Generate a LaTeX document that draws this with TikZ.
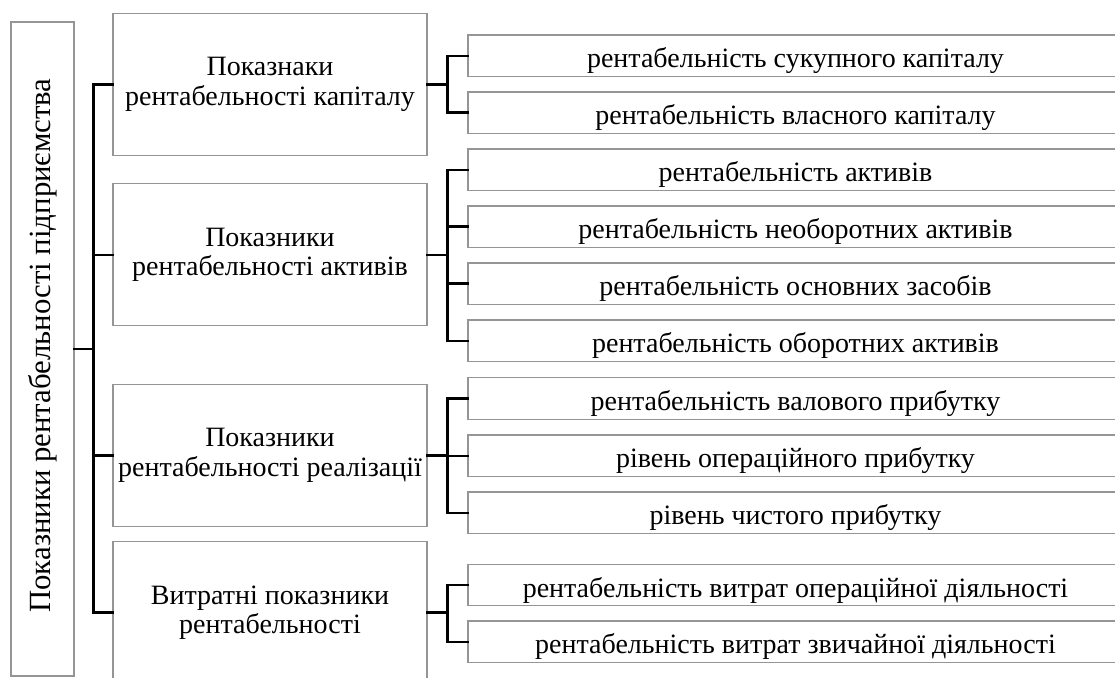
\documentclass[tikz,border=0pt]{standalone}
\usepackage{fontspec}
\setmainfont{Liberation Serif}
\begin{document}
\begin{tikzpicture}[x=1pt,y=-1pt,
  box/.style={draw=boxgray, line width=1.3pt, inner sep=0pt, align=center,
    font=\fontsize{28}{29.7}\selectfont},
  catbox/.style={box, minimum width=314pt, minimum height=142pt},
  subbox/.style={box, minimum width=655pt, minimum height=41.5pt,
    text height=24pt, text depth=0pt},
  conn/.style={draw=black, line width=2.5pt, line cap=rect}]
\definecolor{boxgray}{HTML}{959595}
\useasboundingbox (0,0) rectangle (1115,677);
\clip (0,0) rectangle (1115,677);
% left box
\node[box, minimum width=63pt, minimum height=654pt,
  font=\fontsize{30.8}{32}\selectfont] (lb) at (42.5,349)
  {\rotatebox{90}{\hspace{7pt}Показники рентабельності підприємства}};
% category boxes
\node[catbox] (c1) at (270,84.3) {Показнаки\\рентабельності капіталу};
\node[catbox] (c2) at (270,254.8) {Показники\\рентабельності активів};
\node[catbox] (c3) at (270,455.3) {Показники\\рентабельності реалізації};
\node[catbox] (c4) at (270,612.7) {Витратні показники\\рентабельності};
% sub boxes
\node[subbox] (r1) at (795.5,55.8) {рентабельність сукупного капіталу};
\node[subbox] (r2) at (795.5,112.7) {рентабельність власного капіталу};
\node[subbox] (r3) at (795.5,169.8) {рентабельність активів};
\node[subbox] (r4) at (795.5,226.7) {рентабельність необоротних активів};
\node[subbox] (r5) at (795.5,283.7) {рентабельність основних засобів};
\node[subbox] (r6) at (795.5,340.8) {рентабельність оборотних активів};
\node[subbox] (r7) at (795.5,398.5) {рентабельність валового прибутку};
\node[subbox] (r8) at (795.5,455.8) {рівень операційного прибутку};
\node[subbox] (r9) at (795.5,512.8) {рівень чистого прибутку};
\node[subbox] (r10) at (795.5,585) {рентабельність витрат операційної діяльності};
\node[subbox] (r11) at (795.5,641.8) {рентабельність витрат звичайної діяльності};
% buses
\coordinate (bus) at (93.7,0);
\coordinate (rb) at (447.5,0);
\draw[conn] (c1.west) -- (c1.west -| bus) -- (c4.west -| bus) -- (c4.west);
\draw[conn] (c2.west) -- (c2.west -| bus);
\draw[conn] (c3.west) -- (c3.west -| bus);
\draw[conn] (lb.east) -- (lb.east -| bus);
% group 1
\draw[conn] (c1.east) -- (c1.east -| rb);
\draw[conn] (r1.west) -- (r1.west -| rb) -- (r2.west -| rb) -- (r2.west);
% group 2
\draw[conn] (c2.east) -- (c2.east -| rb);
\draw[conn] (r3.west) -- (r3.west -| rb) -- (r6.west -| rb) -- (r6.west);
\draw[conn] (r4.west) -- (r4.west -| rb);
\draw[conn] (r5.west) -- (r5.west -| rb);
% group 3
\draw[conn] (c3.east) -- (c3.east -| rb);
\draw[conn] (r7.west) -- (r7.west -| rb) -- (r9.west -| rb) -- (r9.west);
\draw[conn] (r8.west) -- (r8.west -| rb);
% group 4
\draw[conn] (c4.east) -- (c4.east -| rb);
\draw[conn] (r10.west) -- (r10.west -| rb) -- (r11.west -| rb) -- (r11.west);
\end{tikzpicture}
\end{document}
